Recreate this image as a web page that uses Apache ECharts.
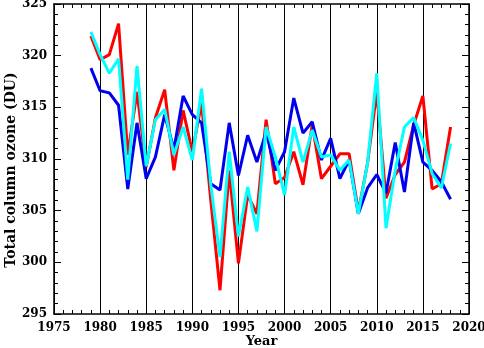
<!DOCTYPE html>
<html>
<head>
<meta charset="utf-8">
<script src="https://cdn.jsdelivr.net/npm/echarts@6/dist/echarts.min.js"></script>
<style>
  html, body { margin: 0; padding: 0; background: #fff; }
  #chart { width: 484px; height: 348px; }
</style>
</head>
<body>
<div id="chart"></div>
<script>
// years 1979-2018
var years = [];
for (var y = 1979; y <= 2018; y++) { years.push(y); }

var redVals = [321.9, 319.6, 320.1, 323.1, 310.4, 316.5, 309.2, 314.0, 316.7, 308.9,
  314.7, 310.7, 315.4, 306.0, 297.3, 308.9, 299.9, 306.5, 304.7, 313.8,
  307.6, 308.2, 310.7, 307.5, 313.3, 308.1, 309.3, 310.5, 310.5, 304.9,
  309.6, 316.5, 306.2, 308.5, 309.7, 313.3, 316.1, 307.1, 307.6, 313.1];

var blueVals = [318.8, 316.6, 316.4, 315.2, 307.1, 313.5, 308.1, 310.2, 314.3, 310.9,
  316.1, 314.3, 313.5, 307.6, 307.0, 313.5, 308.4, 312.3, 309.7, 312.6,
  308.9, 310.7, 315.9, 312.5, 313.6, 309.9, 312.0, 308.1, 309.9, 304.7,
  307.2, 308.5, 306.7, 311.6, 306.8, 313.5, 309.7, 308.9, 307.8, 306.1];

var cyanVals = [322.3, 320.1, 318.3, 319.7, 308.0, 319.0, 309.3, 313.8, 314.8, 310.4,
  313.1, 309.9, 316.8, 307.5, 300.5, 310.7, 302.5, 307.3, 303.0, 313.1,
  310.2, 306.5, 313.1, 309.7, 312.8, 310.2, 310.4, 308.9, 309.9, 304.7,
  309.6, 318.3, 303.3, 308.9, 313.1, 314.0, 311.8, 308.6, 307.2, 311.5];

function pairs(vals) {
  return years.map(function (yr, i) { return [yr, vals[i]]; });
}

var labelFont = {
  fontFamily: 'DejaVu Serif',
  fontWeight: 'bold',
  fontSize: 12,
  color: '#000'
};

var chart = echarts.init(document.getElementById('chart'));
chart.setOption({
  animation: false,
  grid: { left: 54, right: 15, top: 4, bottom: 34, containLabel: false, outerBoundsMode: 'none' },
  xAxis: [{
    type: 'value',
    min: 1975,
    max: 2020,
    interval: 5,
    name: 'Year',
    nameLocation: 'middle',
    nameGap: 21,
    nameMoveOverlap: false,
    nameTextStyle: Object.assign({}, labelFont, { fontSize: 13 }),
    axisLine: { lineStyle: { color: '#000', width: 1.5 } },
    axisTick: { inside: true, length: 7, lineStyle: { color: '#000' } },
    minorTick: { show: true, splitNumber: 5, length: 4, lineStyle: { color: '#000' } },
    axisLabel: Object.assign({ margin: 8, formatter: function (v) { return String(v); } }, labelFont),
    splitLine: { show: true, lineStyle: { color: '#000', width: 1 } }
  }, {
    type: 'value',
    position: 'top',
    min: 1975,
    max: 2020,
    interval: 5,
    axisLine: { lineStyle: { color: '#000', width: 1.5 } },
    axisTick: { inside: true, length: 7, lineStyle: { color: '#000' } },
    minorTick: { show: true, splitNumber: 5, length: 4, lineStyle: { color: '#000' } },
    axisLabel: { show: false },
    splitLine: { show: false }
  }],
  yAxis: [{
    type: 'value',
    min: 295,
    max: 325,
    interval: 5,
    name: 'Total column ozone (DU)',
    nameLocation: 'middle',
    nameGap: 36,
    nameMoveOverlap: false,
    nameTextStyle: Object.assign({}, labelFont, { fontSize: 14, padding: [0, 22, 0, 0] }),
    axisLine: { show: true, lineStyle: { color: '#000', width: 1.5 } },
    axisTick: { show: true, inside: true, length: 7, lineStyle: { color: '#000' } },
    minorTick: { show: true, splitNumber: 5, length: 4, lineStyle: { color: '#000' } },
    axisLabel: Object.assign({ margin: 7 }, labelFont),
    splitLine: { show: false }
  }, {
    type: 'value',
    position: 'right',
    min: 295,
    max: 325,
    interval: 5,
    axisLine: { show: true, lineStyle: { color: '#000', width: 1.5 } },
    axisTick: { show: true, inside: true, length: 7, lineStyle: { color: '#000' } },
    minorTick: { show: true, splitNumber: 5, length: 4, lineStyle: { color: '#000' } },
    axisLabel: { show: false },
    splitLine: { show: false }
  }],
  series: [
    {
      type: 'line', data: pairs(redVals), showSymbol: false,
      lineStyle: { color: '#ff0000', width: 3 }
    },
    {
      type: 'line', data: pairs(blueVals), showSymbol: false,
      lineStyle: { color: '#0000f0', width: 3 }
    },
    {
      type: 'line', data: pairs(cyanVals), showSymbol: false,
      lineStyle: { color: '#00ffff', width: 3 }
    }
  ]
});
</script>
</body>
</html>
